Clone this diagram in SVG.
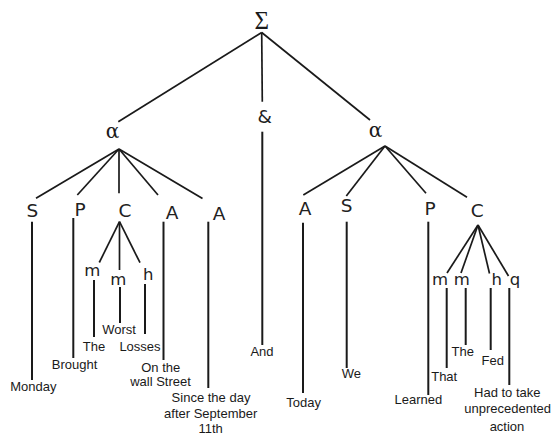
<svg xmlns="http://www.w3.org/2000/svg" width="554" height="436" viewBox="0 0 554 436">
<style>
.e{stroke:#1a1a1a;stroke-width:1.7;fill:none;stroke-linecap:butt}
.v{stroke:#1a1a1a;stroke-width:2;fill:none}
.g{font-family:"DejaVu Sans","Liberation Sans",sans-serif;font-size:18.5px;fill:#222222;text-anchor:middle}
.gs{font-family:"DejaVu Sans","Liberation Sans",sans-serif;font-size:16.5px;fill:#222222;text-anchor:middle}
.s{font-family:"DejaVu Serif","Liberation Serif",serif;fill:#1a1a1a;text-anchor:middle}
.w{font-family:"Liberation Sans",Arial,sans-serif;font-size:13px;fill:#1a1a1a;text-anchor:middle}
</style>
<rect width="554" height="436" fill="#ffffff"/>
<g id="connectors">
<line class="e" x1="261.7" y1="32.5" x2="118.3" y2="121.7"/>
<line class="e" x1="261.7" y1="32.5" x2="262.3" y2="101.7"/>
<line class="e" x1="261.7" y1="32.5" x2="370" y2="120"/>
<line class="e" x1="119" y1="149" x2="36" y2="198.3"/>
<line class="e" x1="119" y1="149" x2="77.3" y2="195"/>
<line class="e" x1="119" y1="149" x2="119" y2="193.3"/>
<line class="e" x1="119" y1="149" x2="158" y2="195"/>
<line class="e" x1="119" y1="149" x2="202.5" y2="198.5"/>
<line class="e" x1="119.5" y1="221.7" x2="99.3" y2="262.5"/>
<line class="e" x1="119.5" y1="221.7" x2="119.5" y2="270"/>
<line class="e" x1="119.5" y1="221.7" x2="140" y2="262.7"/>
<line class="e" x1="385" y1="146" x2="303.3" y2="195"/>
<line class="e" x1="385" y1="146" x2="346.3" y2="196"/>
<line class="e" x1="385" y1="146" x2="426" y2="193.3"/>
<line class="e" x1="385" y1="146" x2="467" y2="197.3"/>
<line class="e" x1="478" y1="225" x2="447" y2="273"/>
<line class="e" x1="478" y1="225" x2="461" y2="273"/>
<line class="e" x1="478" y1="225" x2="489.5" y2="273.5"/>
<line class="e" x1="478" y1="225" x2="508.5" y2="276"/>
<line class="v" x1="32" y1="221.7" x2="32" y2="380"/>
<line class="v" x1="73.3" y1="218" x2="73.3" y2="358"/>
<line class="v" x1="94" y1="280" x2="94" y2="337"/>
<line class="v" x1="120" y1="287" x2="120" y2="323"/>
<line class="v" x1="145" y1="284" x2="145" y2="334"/>
<line class="v" x1="163.5" y1="221.7" x2="163.5" y2="360"/>
<line class="v" x1="208.3" y1="221.7" x2="208.3" y2="388"/>
<line class="v" x1="262.3" y1="131.7" x2="262.3" y2="345"/>
<line class="v" x1="303" y1="222.7" x2="303" y2="393"/>
<line class="v" x1="346.7" y1="221.7" x2="346.7" y2="368"/>
<line class="v" x1="428.3" y1="221.7" x2="428.3" y2="395"/>
<line class="v" x1="446.7" y1="288" x2="446.7" y2="368"/>
<line class="v" x1="465.7" y1="288" x2="465.7" y2="345"/>
<line class="v" x1="490.7" y1="288" x2="490.7" y2="350"/>
<line class="v" x1="509.3" y1="288" x2="509.3" y2="385"/>
</g>
<g id="root"><text x="261.7" y="28.5" font-family="Liberation Serif,serif" font-size="25" fill="#1a1a1a" text-anchor="middle">Σ</text></g>
<g id="alpha1"><text class="s" x="112.5" y="137.5" font-size="20">α</text></g>
<g id="and"><text class="g" x="264.7" y="123.3" font-size="19">&amp;</text></g>
<g id="alpha2"><text class="s" x="375.5" y="136.5" font-size="20">α</text></g>
<g id="S1"><text class="g" x="32.3" y="217">S</text></g>
<g id="P1"><text class="g" x="80" y="216">P</text></g>
<g id="C1"><text class="g" x="125" y="217">C</text></g>
<g id="A1"><text class="g" x="172" y="219">A</text></g>
<g id="A2"><text class="g" x="219" y="220">A</text></g>
<g id="m1"><text class="gs" x="92.3" y="276">m</text></g>
<g id="m2"><text class="gs" x="118.3" y="285">m</text></g>
<g id="h1"><text class="gs" x="148.3" y="280">h</text></g>
<g id="A3"><text class="g" x="305" y="215">A</text></g>
<g id="S2"><text class="g" x="346.7" y="212">S</text></g>
<g id="P2"><text class="g" x="430" y="215">P</text></g>
<g id="C2"><text class="g" x="477.3" y="217">C</text></g>
<g id="m3"><text class="gs" x="440" y="285">m</text></g>
<g id="m4"><text class="gs" x="461.7" y="285">m</text></g>
<g id="h2"><text class="gs" x="496.7" y="285">h</text></g>
<g id="q1"><text class="gs" x="515" y="285">q</text></g>
<g id="w-monday"><text class="w" x="33.3" y="391">Monday</text></g>
<g id="w-brought"><text class="w" x="74.5" y="369">Brought</text></g>
<g id="w-the1"><text class="w" x="94" y="351">The</text></g>
<g id="w-worst"><text class="w" x="119" y="334">Worst</text></g>
<g id="w-losses"><text class="w" x="140" y="351">Losses</text></g>
<g id="w-wallstreet"><text class="w" x="160.7" y="371.7">On the</text><text class="w" x="160.5" y="386">wall Street</text></g>
<g id="w-since"><text class="w" x="211" y="401.7">Since the day</text><text class="w" x="210.7" y="418.3">after September</text><text class="w" x="210.7" y="433">11th</text></g>
<g id="w-and"><text class="w" x="262" y="356">And</text></g>
<g id="w-today"><text class="w" x="303.7" y="407.3">Today</text></g>
<g id="w-we"><text class="w" x="351.3" y="378">We</text></g>
<g id="w-learned"><text class="w" x="418.3" y="404.3">Learned</text></g>
<g id="w-that"><text class="w" x="444.2" y="380.5">That</text></g>
<g id="w-the2"><text class="w" x="462.8" y="356">The</text></g>
<g id="w-fed"><text class="w" x="492.8" y="365">Fed</text></g>
<g id="w-hadto"><text class="w" x="507.3" y="397.3">Had to take</text><text class="w" x="507.7" y="413.3">unprecedented</text><text class="w" x="507" y="430.7">action</text></g>
</svg>
